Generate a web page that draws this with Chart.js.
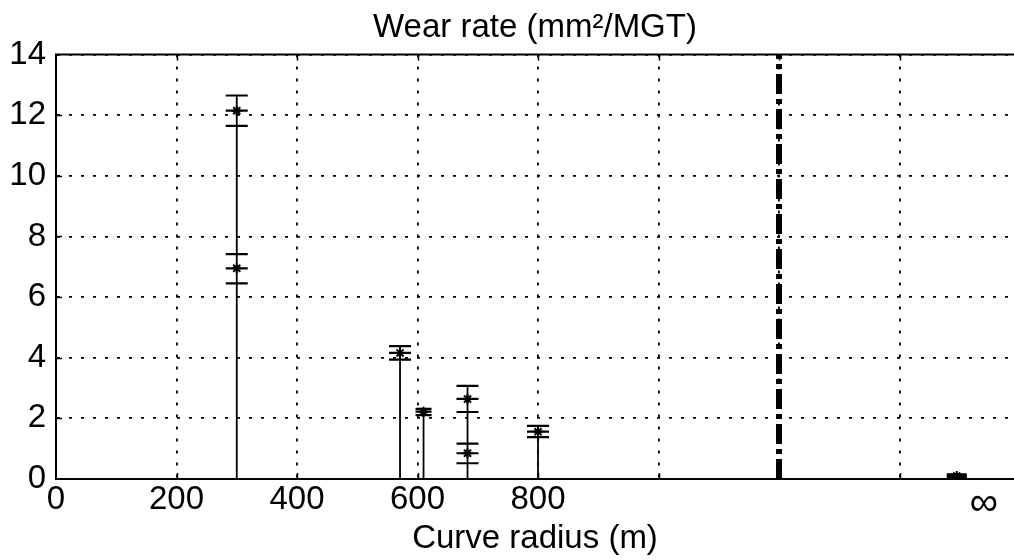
<!DOCTYPE html>
<html><head><meta charset="utf-8">
<script src="https://cdn.jsdelivr.net/npm/chart.js@4.4.1/dist/chart.umd.min.js"></script>
<style>html,body{margin:0;padding:0;background:#fff;overflow:hidden}canvas{display:block}</style>
</head><body><canvas id="c" width="1014" height="560" style="width:1014px;height:560px"></canvas>
<script>
// ---- data ----
const radius    = [300,   300,  571,  610,  683,  683,  800,  1495];
const wearMean  = [12.15, 6.95, 4.16, 2.22, 2.64, 0.85, 1.56, 0.10];
const wearUpper = [12.65, 7.42, 4.38, 2.31, 3.07, 1.17, 1.75, 0.15];
const wearLower = [11.65, 6.45, 3.94, 2.11, 2.21, 0.52, 1.38, 0.05];
const xTickValues = [0, 200, 400, 600, 800, 1000, 1200, 1400, 1540];
const xTickLabels = ['0', '200', '400', '600', '800', '', '', '', '∞'];
const yTickValues = [0, 2, 4, 6, 8, 10, 12, 14];
const yTickLabels = ['0', '2', '4', '6', '8', '10', '12', '14'];
const dividerRadius = 1200;
const infinityTick = 1540;
const titleText = 'Wear rate (mm²/MGT)';
const xTitleText = 'Curve radius (m)';

// ---- build library structures ----
const stemData = [];
[...new Set(radius)].forEach(r => {
  let top = 0;
  radius.forEach((rr, i) => { if (rr === r) top = Math.max(top, wearUpper[i]); });
  stemData.push({x: r, y: 0}, {x: r, y: top}, {x: r, y: null});
});
const capData = [];
radius.forEach((r, i) => {
  capData.push({x: r, y: wearUpper[i]}, {x: r, y: wearMean[i]}, {x: r, y: wearLower[i]});
});
const starData = radius.map((r, i) => ({x: r, y: wearMean[i]}));
const dividerData = [{x: dividerRadius, y: yTickValues[0]}, {x: dividerRadius, y: yTickValues[yTickValues.length - 1]}];

const FONT = "'Liberation Sans', Arial, Helvetica, sans-serif";
const FS = 33;

const frame = {
  id: 'frame',
  afterDraw(chart) {
    const {ctx, chartArea: a, scales} = chart;
    ctx.save();
    ctx.strokeStyle = '#000';
    ctx.lineWidth = 2;
    ctx.beginPath();
    ctx.moveTo(a.left - 1, a.top);
    ctx.lineTo(a.right, a.top);
    ctx.stroke();
    ctx.lineWidth = 1.5;
    ctx.beginPath();
    xTickValues.forEach(v => {
      if (v === infinityTick || v === 0) return;
      const px = Math.round(scales.x.getPixelForValue(v)) + 0.5;
      ctx.moveTo(px, a.bottom); ctx.lineTo(px, a.bottom - 6);
      ctx.moveTo(px, a.top); ctx.lineTo(px, a.top + 6);
    });
    yTickValues.forEach(v => {
      if (v === 0 || v === 14) return;
      const py = Math.round(scales.y.getPixelForValue(v)) + 0.5;
      ctx.moveTo(a.left, py); ctx.lineTo(a.left + 6, py);
    });
    ctx.stroke();
    ctx.restore();
  }
};

new Chart(document.getElementById('c'), {
  type: 'scatter',
  data: {
    datasets: [
      {
        label: 'stems', data: stemData, showLine: true, spanGaps: false,
        borderColor: '#000', borderWidth: 1.8, pointRadius: 0
      },
      {
        label: 'bars', data: capData, pointStyle: 'line',
        pointRadius: ctx => (ctx.raw && ctx.raw.x === 610 ? 8 : (ctx.raw && ctx.raw.x === 1495 ? 10 : 11)),
        borderColor: '#000', pointBorderWidth: 2.2, backgroundColor: '#000'
      },
      {
        label: 'mean', data: starData, pointStyle: 'star', pointRadius: 5,
        borderColor: '#000', pointBorderWidth: 2, backgroundColor: '#000'
      },
      {
        label: 'divider', data: dividerData, showLine: true, pointRadius: 0,
        borderColor: '#000', borderWidth: 6, borderDash: [20, 5, 5, 5], borderCapStyle: 'butt'
      }
    ]
  },
  options: {
    responsive: false, maintainAspectRatio: false, animation: false,
    devicePixelRatio: 1,
    layout: {autoPadding: false, padding: {left: 0, right: 0, top: 0, bottom: 0}},
    plugins: {
      legend: {display: false},
      tooltip: {enabled: false},
      title: {
        display: true, text: titleText, color: '#000', fullSize: false,
        font: {family: FONT, size: FS, weight: 'normal'},
        padding: {top: 8, bottom: 7}
      }
    },
    scales: {
      x: {
        type: 'linear', min: 0, max: 1590,
        afterBuildTicks: s => { s.ticks = xTickValues.map(v => ({value: v})); },
        afterFit: s => { s.height = 81; s.paddingLeft = 0; s.paddingRight = 0; },
        ticks: {
          autoSkip: false, maxRotation: 0, padding: 1, color: '#000',
          font: c => ({family: FONT, size: (c.tick && c.tick.value === infinityTick) ? 40 : FS}),
          callback: (v, i) => xTickLabels[i]
        },
        grid: {
          drawTicks: false, lineWidth: 1.8,
          color: c => (c.tick && c.tick.value === infinityTick ? 'rgba(0,0,0,0)' : '#000')
        },
        border: {display: true, color: '#000', width: 2, dash: [3, 9]},
        title: {
          display: true, text: xTitleText, color: '#000',
          font: {family: FONT, size: FS}, padding: {top: 0, bottom: 1}
        }
      },
      y: {
        type: 'linear', min: 0, max: 14,
        afterBuildTicks: s => { s.ticks = yTickValues.map(v => ({value: v})); },
        afterFit: s => { s.width = 56; s.paddingTop = 0; s.paddingBottom = 0; },
        ticks: {
          padding: 10, color: '#000',
          font: {family: FONT, size: FS},
          callback: (v, i) => yTickLabels[i]
        },
        grid: {drawTicks: false, lineWidth: 1.8, color: '#000'},
        border: {display: true, color: '#000', width: 2, dash: [3, 9]}
      }
    }
  },
  plugins: [frame]
});
</script>
</body></html>
